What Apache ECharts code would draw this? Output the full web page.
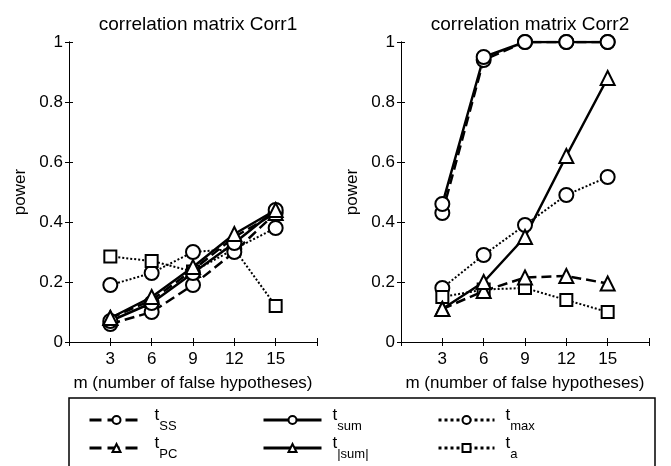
<!DOCTYPE html>
<html>
<head>
<meta charset="utf-8">
<script src="https://cdn.jsdelivr.net/npm/echarts@6/dist/echarts.min.js"></script>
<style>
  html, body { margin: 0; padding: 0; background: #fff; }
  #chart { width: 671px; height: 466px; }
</style>
</head>
<body>
<div id="chart"></div>
<script>
// m = number of false hypotheses
const mVals = [3, 6, 9, 12, 15]

// left panel: correlation matrix Corr1
const ssL  = [0.06, 0.10, 0.19, 0.30, 0.43]
const sumL = [0.07, 0.13, 0.23, 0.33, 0.44]
const maxL = [0.19, 0.23, 0.30, 0.31, 0.38]
const pcL  = [0.08, 0.14, 0.24, 0.35, 0.43]
const absL = [0.08, 0.15, 0.25, 0.36, 0.44]
const aL   = [0.285, 0.27, 0.235, 0.31, 0.12]

// right panel: correlation matrix Corr2
const ssR  = [0.43, 0.94, 1, 1, 1]
const sumR = [0.46, 0.95, 1, 1, 1]
const maxR = [0.18, 0.29, 0.39, 0.49, 0.55]
const pcR  = [0.11, 0.17, 0.215, 0.22, 0.195]
const absR = [0.11, 0.20, 0.35, 0.62, 0.88]
const aR   = [0.15, 0.175, 0.18, 0.14, 0.10]

const titles = ['correlation matrix Corr1', 'correlation matrix Corr2']
const xName = 'm (number of false hypotheses)'
const yName = 'power'

// legend labels: main letter + subscript
const subs = { ss: 'SS', sum: 'sum', max: 'max', pc: 'PC', abs: '|sum|', a: 'a' }

const font = 'Liberation Sans, Arial, sans-serif'

function pairs(vals) {
    return mVals.map((m, i) => [m, vals[i]])
}

// line + marker styles per statistic
const styles = {
    ss:  { type: 'dashed', width: 2.5, symbol: 'emptyCircle' },
    sum: { type: 'solid',  width: 2.5, symbol: 'emptyCircle' },
    max: { type: 'dotted', width: 2,   symbol: 'emptyCircle' },
    pc:  { type: 'dashed', width: 2.5, symbol: 'emptyTriangle' },
    abs: { type: 'solid',  width: 2.5, symbol: 'emptyTriangle' },
    a:   { type: 'dotted', width: 2,   symbol: 'emptyRect' }
}

function makeSeries(key, vals, idx) {
    const st = styles[key]
    return {
        name: key,
        type: 'line',
        xAxisIndex: idx * 2,
        yAxisIndex: idx * 2,
        data: pairs(vals),
        symbol: st.symbol,
        symbolSize: st.symbol === 'emptyRect' ? 12 : 14,
        color: '#000',
        lineStyle: { color: '#000', width: st.width, type: st.type },
        itemStyle: { color: '#000', borderColor: '#000', borderWidth: 2.5 },
        animation: false
    }
}

const series = [
    makeSeries('max', maxL, 0), makeSeries('a', aL, 0),
    makeSeries('ss', ssL, 0), makeSeries('pc', pcL, 0),
    makeSeries('sum', sumL, 0), makeSeries('abs', absL, 0),
    makeSeries('max', maxR, 1), makeSeries('a', aR, 1),
    makeSeries('ss', ssR, 1), makeSeries('pc', pcR, 1),
    makeSeries('sum', sumR, 1), makeSeries('abs', absR, 1)
]

const axisLine = { show: true, lineStyle: { color: '#000', width: 1 } }
const tick = { show: true, inside: true, length: 4, lineStyle: { color: '#000' } }

const grids = [
    { left: 69, right: 354, top: 42, bottom: 124 },
    { left: 401, right: 22, top: 42, bottom: 124 }
]

let xAxis = []
let yAxis = []
grids.forEach((g, i) => {
    xAxis.push({
        type: 'value', gridIndex: i, min: 0, max: 18, interval: 3,
        position: 'bottom',
        name: xName, nameLocation: 'middle', nameGap: 33,
        nameTextStyle: { color: '#000', fontSize: 17, fontFamily: font },
        axisLine: axisLine, axisTick: tick, splitLine: { show: false },
        axisLabel: {
            color: '#000', fontSize: 17, fontFamily: font, margin: 9,
            formatter: v => (v === 0 || v === 18) ? '' : v
        }
    })
    xAxis.push({
        type: 'value', gridIndex: i, min: 0, max: 18, interval: 3,
        position: 'top',
        axisLine: axisLine, axisTick: tick, splitLine: { show: false },
        axisLabel: { show: false }
    })
    yAxis.push({
        type: 'value', gridIndex: i, min: 0, max: 1, interval: 0.2,
        position: 'left',
        name: yName, nameLocation: 'middle', nameGap: 40,
        nameTextStyle: { color: '#000', fontSize: 17, fontFamily: font },
        axisLine: axisLine, axisTick: tick, splitLine: { show: false },
        axisLabel: {
            color: '#000', fontSize: 17, fontFamily: font, margin: 6,
            formatter: v => String(Math.round(v * 10) / 10)
        }
    })
    yAxis.push({
        type: 'value', gridIndex: i, min: 0, max: 1, interval: 0.2,
        position: 'right',
        axisLine: axisLine, axisTick: tick, splitLine: { show: false },
        axisLabel: { show: false }
    })
})

// legend: one item per component, 3 columns x 2 rows
const legendKeys = ['ss', 'sum', 'max', 'pc', 'abs', 'a']
const legendLeft = [83, 257, 432]
const legendTop = [402, 430]
const legendWidth = [54, 58, 56]
const legend = legendKeys.map((key, i) => ({
    data: [key],
    left: legendLeft[i % 3],
    top: legendTop[Math.floor(i / 3)],
    itemWidth: legendWidth[i % 3],
    itemHeight: 10,
    itemGap: 0,
    selectedMode: false,
    itemStyle: { borderWidth: 3 },
    lineStyle: { width: 3 },
    textStyle: {
        color: '#000', fontFamily: font, padding: [0, 0, 0, 6],
        rich: {
            t: { fontSize: 17, fontFamily: font, lineHeight: 26, verticalAlign: 'top' },
            s: { fontSize: 13, fontFamily: font, lineHeight: 26, verticalAlign: 'bottom' }
        }
    },
    formatter: name => '{t|t}{s|' + subs[name] + '}'
}))

const myChart = echarts.init(document.querySelector('#chart'))

const option = {
    backgroundColor: '#fff',
    animation: false,
    title: titles.map((t, i) => ({
        text: t,
        left: i === 0 ? 193 : 525,
        textAlign: 'center',
        top: 10,
        textStyle: { color: '#000', fontSize: 19, fontWeight: 'normal', fontFamily: font }
    })),
    grid: grids,
    xAxis: xAxis,
    yAxis: yAxis,
    legend: legend,
    graphic: [{
        type: 'rect',
        shape: { x: 69, y: 398, width: 586, height: 90 },
        style: { fill: 'none', stroke: '#000', lineWidth: 1.5 },
        silent: true
    }],
    series: series
}

myChart.setOption(option)
</script>
</body>
</html>
